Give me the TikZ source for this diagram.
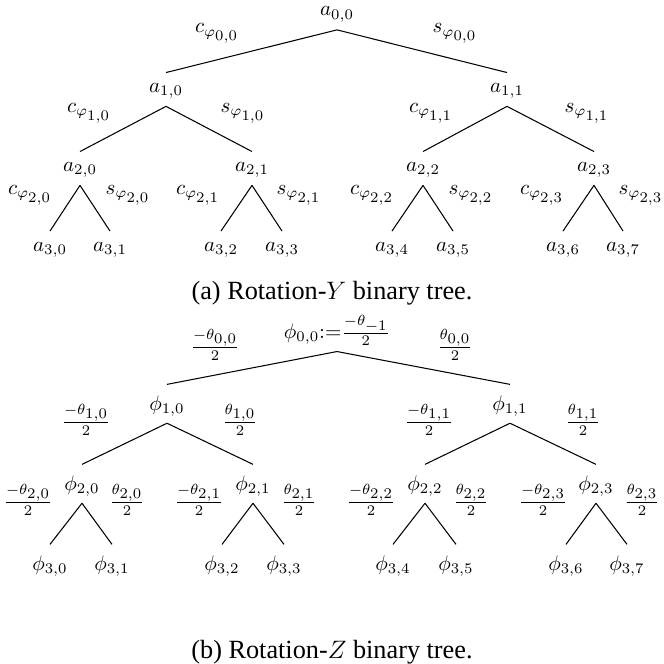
\documentclass[tikz,border=0pt]{standalone}
\usepackage[no-math]{fontspec}
\newfontfamily\capfont{Liberation Serif}
\newcommand{\subsub}[1]{{\scriptstyle #1}}
\begin{document}
\begin{tikzpicture}[x=0.476pt,y=-0.476pt,
  an/.style={anchor=base,inner xsep=1pt,inner ysep=3pt,text height=6.3pt,text depth=3.4pt},
  pn/.style={anchor=base,inner xsep=1pt,inner ysep=3pt,text height=9pt,text depth=3.1pt},
  lbl/.style={anchor=base,inner sep=0pt},
  br/.style={line width=0.5pt},
  captext/.style={font=\capfont\fontsize{12.5}{15}\selectfont}]
\useasboundingbox (0,0) rectangle (663,664);
% ---------- tree (a) ----------
\node[an] (a00) at (337,16) {$a_{0,0}$};
\node[an] (a10) at (166,92.5) {$a_{1,0}$};
\node[an] (a11) at (507,92.5) {$a_{1,1}$};
\node[an] (a20) at (80,171.5) {$a_{2,0}$};
\node[an] (a21) at (252,171.5) {$a_{2,1}$};
\node[an] (a22) at (423,171.5) {$a_{2,2}$};
\node[an] (a23) at (594,171.5) {$a_{2,3}$};
\node[an] (a30) at (50,251) {$a_{3,0}$};
\node[an] (a31) at (110,251) {$a_{3,1}$};
\node[an] (a32) at (221,251) {$a_{3,2}$};
\node[an] (a33) at (282,251) {$a_{3,3}$};
\node[an] (a34) at (392,251) {$a_{3,4}$};
\node[an] (a35) at (453,251) {$a_{3,5}$};
\node[an] (a36) at (563,251) {$a_{3,6}$};
\node[an] (a37) at (623,251) {$a_{3,7}$};
\foreach \p/\c in {a00/a10,a00/a11,a10/a20,a10/a21,a11/a22,a11/a23,
  a20/a30,a20/a31,a21/a32,a21/a33,a22/a34,a22/a35,a23/a36,a23/a37}
  \draw[br] (\p.south) -- (\c.north);
\node[lbl] (ca00) at (217,33) {$c_{\varphi_{\subsub{0,0}}}$};
\node[lbl] (sa00) at (455,33) {$s_{\varphi_{\subsub{0,0}}}$};
\node[lbl] (ca10) at (89,112.5) {$c_{\varphi_{\subsub{1,0}}}$};
\node[lbl] (sa10) at (243,112.5) {$s_{\varphi_{\subsub{1,0}}}$};
\node[lbl] (ca11) at (431,112.5) {$c_{\varphi_{\subsub{1,1}}}$};
\node[lbl] (sa11) at (587,112.5) {$s_{\varphi_{\subsub{1,1}}}$};
\node[lbl] (ca20) at (30,194.5) {$c_{\varphi_{\subsub{2,0}}}$};
\node[lbl] (sa20) at (128,194.5) {$s_{\varphi_{\subsub{2,0}}}$};
\node[lbl] (ca21) at (198,194.5) {$c_{\varphi_{\subsub{2,1}}}$};
\node[lbl] (sa21) at (299,194.5) {$s_{\varphi_{\subsub{2,1}}}$};
\node[lbl] (ca22) at (372,194.5) {$c_{\varphi_{\subsub{2,2}}}$};
\node[lbl] (sa22) at (471,194.5) {$s_{\varphi_{\subsub{2,2}}}$};
\node[lbl] (ca23) at (542,194.5) {$c_{\varphi_{\subsub{2,3}}}$};
\node[lbl] (sa23) at (641,194.5) {$s_{\varphi_{\subsub{2,3}}}$};
\node[captext] (capa) at (332,293) {(a) Rotation-$Y$ binary tree.};
% ---------- tree (b) ----------
\node[pn] (p00) at (337,338.3) {$\phi_{0,0}{:=}\frac{-\theta_{\subsub{-1}}}{2}$};
\node[pn] (p10) at (167,410) {$\phi_{1,0}$};
\node[pn] (p11) at (510,410) {$\phi_{1,1}$};
\node[pn] (p20) at (82,490) {$\phi_{2,0}$};
\node[pn] (p21) at (253,490) {$\phi_{2,1}$};
\node[pn] (p22) at (425,490) {$\phi_{2,2}$};
\node[pn] (p23) at (596,490) {$\phi_{2,3}$};
\node[pn] (p30) at (50,570) {$\phi_{3,0}$};
\node[pn] (p31) at (112,570) {$\phi_{3,1}$};
\node[pn] (p32) at (222,570) {$\phi_{3,2}$};
\node[pn] (p33) at (284,570) {$\phi_{3,3}$};
\node[pn] (p34) at (393,570) {$\phi_{3,4}$};
\node[pn] (p35) at (456,570) {$\phi_{3,5}$};
\node[pn] (p36) at (566,570) {$\phi_{3,6}$};
\node[pn] (p37) at (627,570) {$\phi_{3,7}$};
\foreach \p/\c in {p10/p20,p10/p21,p11/p22,p11/p23,
  p20/p30,p20/p31,p21/p32,p21/p33,p22/p34,p22/p35,p23/p36,p23/p37}
  \draw[br] (\p.south) -- (\c.north);
\draw[br] (p00.south) -- (p10.north);
\draw[br] (p00.south) -- (p11.north);
\node[lbl] (mt00) at (215,353) {$\frac{-\theta_{\subsub{0,0}}}{2}$};
\node[lbl] (pt00) at (455,353) {$\frac{\theta_{\subsub{0,0}}}{2}$};
\node[lbl] (mt10) at (86,428) {$\frac{-\theta_{\subsub{1,0}}}{2}$};
\node[lbl] (pt10) at (240,428) {$\frac{\theta_{\subsub{1,0}}}{2}$};
\node[lbl] (mt11) at (429,428) {$\frac{-\theta_{\subsub{1,1}}}{2}$};
\node[lbl] (pt11) at (583,428) {$\frac{\theta_{\subsub{1,1}}}{2}$};
\node[lbl] (mt20) at (28,508) {$\frac{-\theta_{\subsub{2,0}}}{2}$};
\node[lbl] (pt20) at (127,508) {$\frac{\theta_{\subsub{2,0}}}{2}$};
\node[lbl] (mt21) at (199,508) {$\frac{-\theta_{\subsub{2,1}}}{2}$};
\node[lbl] (pt21) at (299,508) {$\frac{\theta_{\subsub{2,1}}}{2}$};
\node[lbl] (mt22) at (371,508) {$\frac{-\theta_{\subsub{2,2}}}{2}$};
\node[lbl] (pt22) at (471,508) {$\frac{\theta_{\subsub{2,2}}}{2}$};
\node[lbl] (mt23) at (543,508) {$\frac{-\theta_{\subsub{2,3}}}{2}$};
\node[lbl] (pt23) at (642,508) {$\frac{\theta_{\subsub{2,3}}}{2}$};
\node[captext] (capb) at (332,652) {(b) Rotation-$Z$ binary tree.};
\end{tikzpicture}
\end{document}
